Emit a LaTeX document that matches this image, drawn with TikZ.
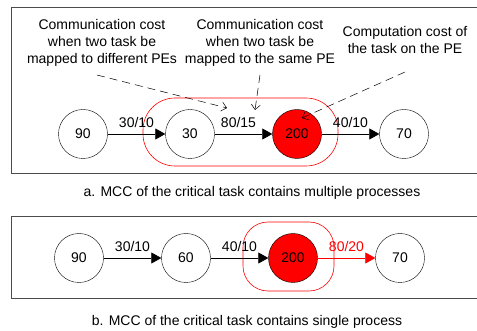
\documentclass[tikz,border=0pt]{standalone}
\usepackage{fontspec}
\setmainfont{Liberation Sans}
\usetikzlibrary{arrows.meta}
\begin{document}
\begin{tikzpicture}[x=1pt, y=-1pt, node distance=107pt,
    main node/.style={circle, draw, minimum size=49pt, inner sep=0pt, font=\fontsize{14}{16}\selectfont},
    crit node/.style={main node, fill=red},
    flow/.style={-{Triangle[length=10pt,width=11pt]}, line width=0.6pt},
    note/.style={dashed, dash pattern=on 8pt off 5pt, -{Straight Barb[length=5pt,width=9pt]}, line width=0.5pt},
    mcc/.style={draw=red, line width=0.6pt},
    frame/.style={draw=black!70, line width=0.7pt}]
        \tikzstyle{every node}=[font=\fontsize{14}{17}\selectfont]
        \useasboundingbox (0,0) rectangle (477,331);

        % frames
        \draw[frame] (11,7) rectangle (490,173);
        \draw[frame] (11,216) rectangle (490,298);

        % a. multiple processes
          \node[main node] (a1) at (83,134) {90};
          \node[main node] (a2) [right of=a1] {30};
          \node[crit node] (a3) [right of=a2] {200};
          \node[main node] (a4) [right of=a3] {70};

          \draw[mcc, rounded corners=32pt] (143,98) rectangle (338,166);

          \path[flow, every node/.style={font=\fontsize{14}{16}\selectfont}]
            (a1) edge node [above=3pt] {30/10} (a2)
            (a2) edge node [above=3pt, xshift=-5pt] {80/15} (a3)
            (a3) edge node [above=3pt] {40/10} (a4);

          \node[align=center] (t1) at (102,43) {Communication cost\\when two task be\\mapped to different PEs};
          \node[align=center] (t2) at (260,43) {Communication cost\\when two task be\\mapped to the same PE};
          \node[align=center] (t3) at (405,40) {Computation cost of\\the task on the PE};

          \coordinate (s1) at (97,75);
          \coordinate (s2) at (260,75);
          \coordinate (s3) at (405,72);
          \coordinate (e1) at (227,108);
          \coordinate (e2) at (255,110);
          \coordinate (e3) at (302,118);
          \draw[note] (s1) -- (e1);
          \draw[note] (s2) -- (e2);
          \draw[note] (s3) -- (e3);

          \node (capa) at (252,193) {a. MCC of the critical task contains multiple processes};

        % b. single process
          \node[main node] (b1) at (79,258) {90};
          \node[main node] (b2) [right of=b1] {60};
          \node[crit node] (b3) [right of=b2] {200};
          \node[main node] (b4) [right of=b3] {70};

          \draw[mcc, rounded corners=25pt] (243,222) rectangle (334,291);

          \path[flow, every node/.style={font=\fontsize{14}{16}\selectfont}]
            (b1) edge node [above=3pt] {30/10} (b2)
            (b2) edge node [above=3pt] {40/10} (b3)
            (b3) edge[red] node [above=3pt, text=red] {80/20} (b4);

          \node (capb) at (247,322) {b. MCC of the critical task contains single process};
\end{tikzpicture}
\end{document}
